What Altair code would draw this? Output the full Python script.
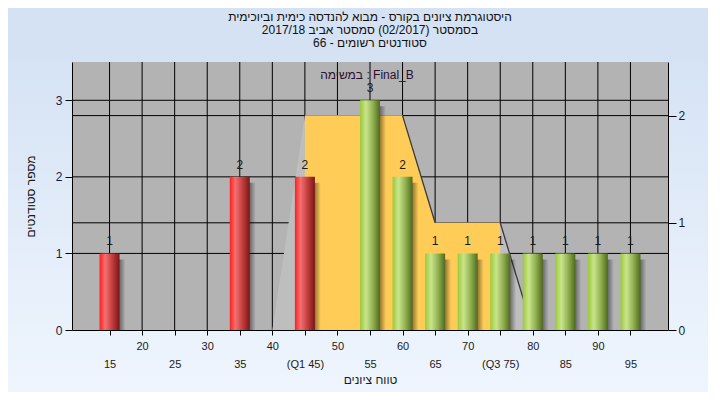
import altair as alt
import pandas as pd

# ---- data ----
grades = [15, 35, 45, 55, 60, 65, 70, 75, 80, 85, 90, 95]
counts = [1, 2, 2, 3, 2, 1, 1, 1, 1, 1, 1, 1]
passed = [False, False, False, True, True, True, True, True, True, True, True, True]
x_ticks = [15, 20, 25, 30, 35, 40, 45, 50, 55, 60, 65, 70, 75, 80, 85, 90, 95]
left_ticks = [0, 1, 2, 3]
right_ticks = [0, 1, 2]
quartile_labels = {45: "(Q1 45)", 75: "(Q3 75)"}
box_x = [40, 45, 60, 65, 75, 80]
box_y = [0, 2, 2, 1, 1, 0]
q1, q3 = 45, 75
title_lines = [
    "היסטוגרמת ציונים בקורס - מבוא להנדסה כימית וביוכימית",
    "בסמסטר  (02/2017)  סמסטר אביב 2017/18",
    "סטודנטים רשומים - 66",
]
series_label = "במשימה : Final_B"
x_title = "טווח ציונים"
y_title = "מספר סטודנטים"

FONT = "Liberation Sans"
W, H = 596, 268
PL, PT, PR, PB = 64, 54, 40, 62

bars_df = pd.DataFrame({"grade": grades, "count": counts, "passed": passed})
box_df = pd.DataFrame({"grade": box_x, "level": box_y})
seg_rows = []
for i in range(len(box_x) - 1):
    if box_y[i + 1] < box_y[i]:
        seg_rows.append({"grade": box_x[i], "grade2": box_x[i + 1],
                         "level": box_y[i], "level2": box_y[i + 1]})
seg_df = pd.DataFrame(seg_rows)
one = pd.DataFrame({"k": [0]})


def lgrad(stops, vertical=False):
    return alt.LinearGradient(
        gradient="linear",
        stops=[alt.GradientStop(color=c, offset=o) for o, c in stops],
        x1=0, x2=0 if vertical else 1, y1=0, y2=1 if vertical else 0,
    )


# ---- axes / scales ----
label_expr = "datum.value % 10 == 0 ? datum.label : ['', " + " : ".join(
    [f"datum.value == {k} ? '{v}'" for k, v in quartile_labels.items()] + ["datum.label"]
) + "]"

x_axis = alt.Axis(
    values=x_ticks, grid=False, zindex=1,
    tickColor="black", tickSize=5, domainColor="black",
    labelExpr=label_expr, labelLineHeight=18, labelOverlap=False, labelFlush=False,
    labelPadding=5, labelFontSize=11, labelFont=FONT, labelColor="#1a1a1a",
    title=x_title, titleFont=FONT, titleFontSize=12, titleFontWeight="normal",
    titleColor="#1a1a1a", titlePadding=5,
)
x_scale = alt.Scale(domain=[10, 100], nice=False, zero=False)
X = alt.X("grade:Q", scale=x_scale, axis=x_axis)

left_scale = alt.Scale(domain=[0, 3.5], nice=False)
right_scale = alt.Scale(domain=[0, 2.5], nice=False)

y_left = alt.Y(
    "count:Q", scale=left_scale,
    axis=alt.Axis(orient="left", values=left_ticks, grid=False, zindex=1,
                  tickColor="black", tickSize=7, domainColor="black",
                  labelFont=FONT, labelFontSize=12, labelColor="#1a1a3a", labelPadding=3,
                  title=y_title, titleFont=FONT, titleFontSize=12,
                  titleFontWeight="normal", titleColor="#1a1a1a", titlePadding=18),
)
y_right = alt.Y(
    "level:Q", scale=right_scale,
    axis=alt.Axis(orient="right", values=right_ticks, grid=False, zindex=1,
                  tickColor="black", tickSize=8, domainColor="black",
                  labelFont=FONT, labelFontSize=12, labelColor="#1a1a1a", labelPadding=2,
                  title=None),
)

# ---- background strips (gradient outside the plot area, below the title band) ----
def strip(x0, x1, y0, y1, c0, c1):
    return alt.Chart(one).mark_rect(color=lgrad([(0, c0), (1, c1)], vertical=True)).encode(
        x=alt.value(x0), x2=alt.value(x1), y=alt.value(y0), y2=alt.value(y1))

bg = alt.layer(
    strip(-PL - 2, 0, 0, H, "#D6E3F4", "#EAF2FC"),
    strip(W, W + PR + 2, 0, H, "#D6E3F4", "#EAF2FC"),
    strip(-PL - 2, W + PR + 2, H, H + PB + 2, "#EAF2FC", "#EEF5FE"),
)

# ---- grid lines (drawn as rules so that the areas can cover them) ----
x_grid = alt.Chart(pd.DataFrame({"grade": x_ticks})).mark_rule(color="black", strokeWidth=1).encode(x=X)
yl_grid = alt.Chart(pd.DataFrame({"count": left_ticks[1:]})).mark_rule(color="black", strokeWidth=1).encode(
    y=alt.Y("count:Q", scale=left_scale, axis=None))
yr_grid = alt.Chart(pd.DataFrame({"level": right_ticks[1:]})).mark_rule(color="black", strokeWidth=1).encode(
    y=alt.Y("level:Q", scale=right_scale, axis=None))

# ---- box-like area on the right axis ----
area_gray = alt.Chart(box_df).mark_area(color="#BEBEBE").encode(x=X, y=y_right)
area_yellow = alt.Chart(box_df).transform_filter(
    f"datum.grade >= {q1} && datum.grade <= {q3}"
).mark_area(color="#FFCC57").encode(x=X, y=y_right)
slopes = alt.Chart(seg_df).mark_rule(color="#3A3A3A", strokeWidth=1.3).encode(
    x=X, x2="grade2:Q", y=y_right, y2="level2:Q")
area_group = alt.layer(area_gray, area_yellow, slopes)

# ---- bars ----
red = lgrad([(0, "#FF1E1E"), (0.28, "#F47070"), (0.6, "#C84242"), (1, "#7C1616")])
green = lgrad([(0, "#9CC83A"), (0.3, "#C9E58C"), (0.65, "#90B050"), (1, "#50691F")])
shadow = lgrad([(0, "rgba(0,0,0,0.75)"), (0.6, "rgba(0,0,0,0.55)"), (1, "rgba(0,0,0,0)")])

base = alt.Chart(bars_df)
shadows = base.mark_bar(size=20, color=shadow, xOffset=6, yOffset=6, clip=True).encode(x=X, y=y_left)
red_bars = base.transform_filter("!datum.passed").mark_bar(size=20, color=red).encode(x=X, y=y_left)
green_bars = base.transform_filter("datum.passed").mark_bar(size=20, color=green).encode(x=X, y=y_left)
labels = base.mark_text(dy=-5, baseline="bottom", font=FONT, fontSize=12, color="#1a1a1a").encode(
    x=X, y=y_left, text="count:Q")
bars_group = alt.layer(shadows, red_bars, green_bars, labels)

note = alt.Chart(one).mark_text(font=FONT, fontSize=12, color="#2a1030", baseline="middle").encode(
    x=alt.value(W / 2 - 3), y=alt.value(13), text=alt.value(series_label))

chart = alt.layer(bg, x_grid, yl_grid, yr_grid, area_group, bars_group, note).resolve_scale(
    y="independent"
).properties(
    width=W, height=H,
    padding={"left": PL, "top": PT, "right": PR, "bottom": PB},
    autosize=alt.AutoSizeParams(type="none"),
    background="#D5E2F3",
    title=alt.TitleParams(text=title_lines, font=FONT, fontSize=12, fontWeight="normal",
                          color="#111111", anchor="middle", offset=12, lineHeight=13, zindex=1),
).configure_view(fill="#B3B3B3", stroke=None)

chart.save("out.html", embed_options={"renderer": "svg", "actions": False})
